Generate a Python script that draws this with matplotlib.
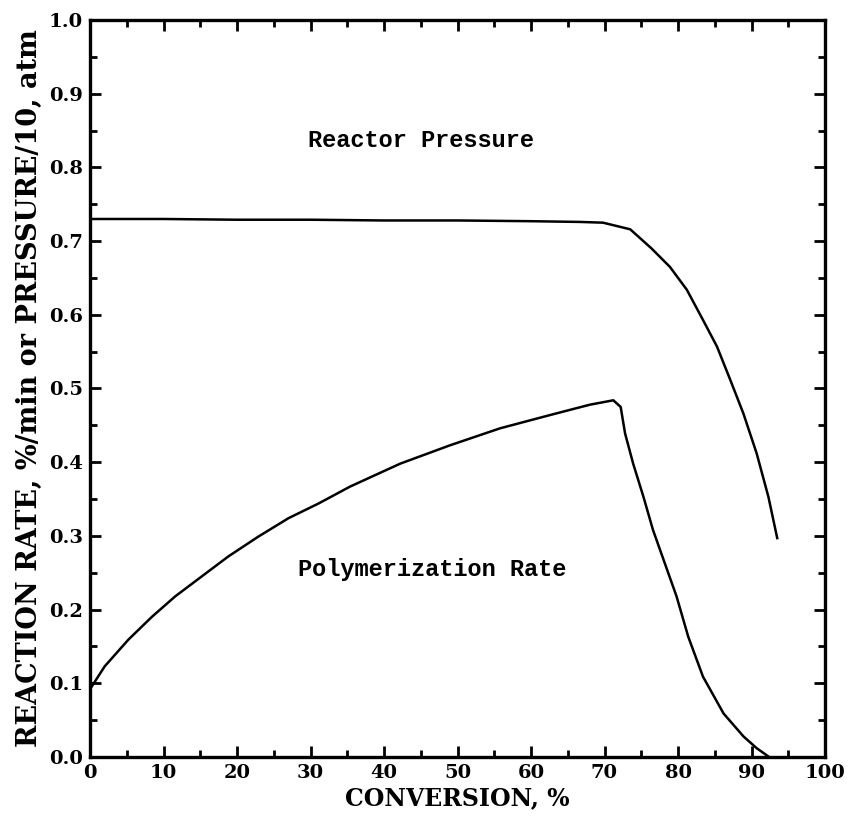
import numpy as np
import matplotlib.pyplot as plt
from matplotlib.ticker import MultipleLocator

# reactor pressure (atm/10) vs conversion
press_conv = [0, 10, 20, 30, 40, 50, 60, 66.7, 69.8, 73.5, 76.4, 78.9, 81.2, 83.4,
              85.3, 87.1, 88.9, 90.7, 92.3, 93.5]
press_val = [0.730, 0.730, 0.729, 0.729, 0.728, 0.728, 0.727, 0.726, 0.725, 0.716,
             0.690, 0.665, 0.634, 0.593, 0.557, 0.512, 0.466, 0.412, 0.353, 0.297]

# polymerization rate (%/min) vs conversion
rate_conv = [0, 2.0, 5.2, 8.4, 11.6, 15.2, 18.8, 22.9, 27.0, 31.1, 35.4, 42.2, 49.0,
             55.8, 62.6, 68.0, 71.2, 72.2, 72.8, 73.9, 75.3, 76.6, 78.2, 79.8, 81.4,
             83.4, 86.2, 88.9, 90.7, 92.4]
rate_val = [0.092, 0.123, 0.159, 0.190, 0.218, 0.245, 0.272, 0.299, 0.324, 0.344,
            0.367, 0.398, 0.423, 0.446, 0.464, 0.478, 0.484, 0.475, 0.439, 0.398,
            0.353, 0.308, 0.263, 0.218, 0.163, 0.109, 0.059, 0.028, 0.012, 0.000]

plt.rcParams['font.family'] = 'DejaVu Serif'
plt.rcParams['font.weight'] = 'bold'

fig = plt.figure(figsize=(8.49, 8.24), dpi=100)
ax = fig.add_axes([90 / 849, 1 - 757 / 824, 735 / 849, 737 / 824])

ax.plot(press_conv, press_val, color='black', lw=1.8, solid_joinstyle='round')
ax.plot(rate_conv, rate_val, color='black', lw=1.8, solid_joinstyle='round')

ax.text(45.0, 0.837, 'Reactor Pressure', ha='center', va='center',
        family='Liberation Mono', fontsize=17, fontweight='bold')
ax.text(46.5, 0.254, 'Polymerization Rate', ha='center', va='center',
        family='Liberation Mono', fontsize=17, fontweight='bold')

ax.set_xlim(0, 100)
ax.set_ylim(0, 1.0)
ax.xaxis.set_major_locator(MultipleLocator(10))
ax.xaxis.set_minor_locator(MultipleLocator(5))
ax.yaxis.set_major_locator(MultipleLocator(0.1))
ax.yaxis.set_minor_locator(MultipleLocator(0.05))
ax.yaxis.set_major_formatter(plt.FormatStrFormatter('%.1f'))

ax.tick_params(which='both', direction='in', top=True, right=True, width=2)
ax.tick_params(which='major', length=8, labelsize=14, pad=5)
ax.tick_params(which='minor', length=5)
for lab in ax.get_xticklabels() + ax.get_yticklabels():
    lab.set_fontweight('bold')
for sp in ax.spines.values():
    sp.set_linewidth(2.4)

ax.set_xlabel('CONVERSION, %', fontsize=17, fontweight='bold', labelpad=3)
ax.set_ylabel('REACTION RATE, %/min or PRESSURE/10, atm', fontsize=19.5,
              fontweight='bold', labelpad=4)

fig.savefig('out.png', dpi=100)
